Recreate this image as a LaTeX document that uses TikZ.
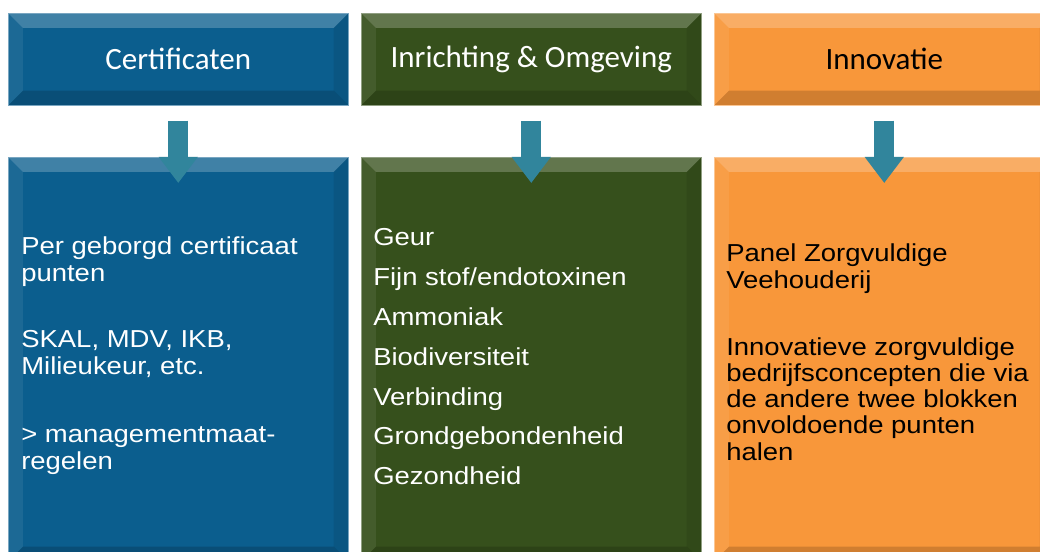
\documentclass[tikz,border=0pt]{standalone}
\usepackage{fontspec}
\setmainfont{Liberation Sans}
\newfontfamily\headfont{Carlito}
\newfontfamily\bodyfont[FakeStretch=1.12]{Liberation Sans}
\usetikzlibrary{calc,arrows.meta}
\definecolor{cblue}{HTML}{0B5E8E}
\definecolor{cgreen}{HTML}{36501C}
\definecolor{corange}{HTML}{F8973A}
\definecolor{carrow}{HTML}{31859C}
\newcommand{\txtblock}[2]{\begin{minipage}[t]{240pt}\raggedright\parindent=0pt\bodyfont\fontsize{18.4pt}{#1}\selectfont #2\end{minipage}}
\tikzset{
  bevel/.style={path picture={
    \fill[white,opacity=.22] (path picture bounding box.north west) -- (path picture bounding box.north east)
      -- ([xshift=-11pt,yshift=-11pt]path picture bounding box.north east) -- ([xshift=11pt,yshift=-11pt]path picture bounding box.north west) -- cycle;
    \fill[white,opacity=.07] (path picture bounding box.north west) -- ([xshift=11pt,yshift=-11pt]path picture bounding box.north west)
      -- ([xshift=11pt,yshift=11pt]path picture bounding box.south west) -- (path picture bounding box.south west) -- cycle;
    \fill[black,opacity=.08] (path picture bounding box.north east) -- ([xshift=-11pt,yshift=-11pt]path picture bounding box.north east)
      -- ([xshift=-11pt,yshift=11pt]path picture bounding box.south east) -- (path picture bounding box.south east) -- cycle;
    \fill[black,opacity=.16] (path picture bounding box.south west) -- (path picture bounding box.south east)
      -- ([xshift=-11pt,yshift=11pt]path picture bounding box.south east) -- ([xshift=11pt,yshift=11pt]path picture bounding box.south west) -- cycle;
  }},
  box/.style={rectangle, fill=#1, draw=#1!55!white, line width=.4pt, minimum width=255pt, inner sep=0pt, anchor=north west, bevel},
  headbox/.style={box=#1, minimum height=69pt, font=\headfont\fontsize{23.25pt}{28pt}\selectfont},
  bodybox/.style={box=#1, minimum height=303pt},
  bodytxt/.style={anchor=base west, inner sep=0pt},
  arrowc/.style={draw=carrow, line width=15pt, -{Triangle[width=28pt,length=19.5pt]}}
}
\begin{document}
\begin{tikzpicture}[x=0.75pt,y=-0.75pt]
\useasboundingbox (0,0) rectangle (1040,552);
\clip (0,0) rectangle (1040,552);
\fill[white] (0,0) rectangle (1040,552);
% top boxes
\node[headbox=cblue, text=white] (h1) at (8,13) {Certificaten};
\node[headbox=cgreen, text=white] (h2) at (361,13) {Inrichting \& Omgeving};
\node[headbox=corange, text=black] (h3) at (714,13) {Innovatie};
% bottom boxes
\node[bodybox=cblue] (b1) at (8,157) {};
\node[bodybox=cgreen] (b2) at (361,157) {};
\node[bodybox=corange] (b3) at (714,157) {};
% arrows
\draw[arrowc] ($(h1.south)+(0,15)$) -- ($(b1.north)+(0,26)$);
\draw[arrowc] ($(h2.south)+(0,15)$) -- ($(b2.north)+(0,26)$);
\draw[arrowc] ($(h3.south)+(0,15)$) -- ($(b3.north)+(0,26)$);
% texts
\node[bodytxt, text=white] (t1) at (21,255) {\txtblock{20.2pt}{Per geborgd certificaat\\punten\\[29pt]SKAL, MDV, IKB,\\Milieukeur, etc.\\[31pt]> managementmaat-\\regelen}};
\node[bodytxt, text=white] (t2) at (373,246) {\txtblock{29.85pt}{Geur\\Fijn stof/endotoxinen\\Ammoniak\\Biodiversiteit\\Verbinding\\Grondgebondenheid\\Gezondheid}};
\node[bodytxt, text=black] (t3) at (726,262) {\txtblock{19.6pt}{Panel Zorgvuldige\\Veehouderij\\[31pt]Innovatieve zorgvuldige\\bedrijfsconcepten die via\\de andere twee blokken\\onvoldoende punten\\halen}};
\end{tikzpicture}
\end{document}
